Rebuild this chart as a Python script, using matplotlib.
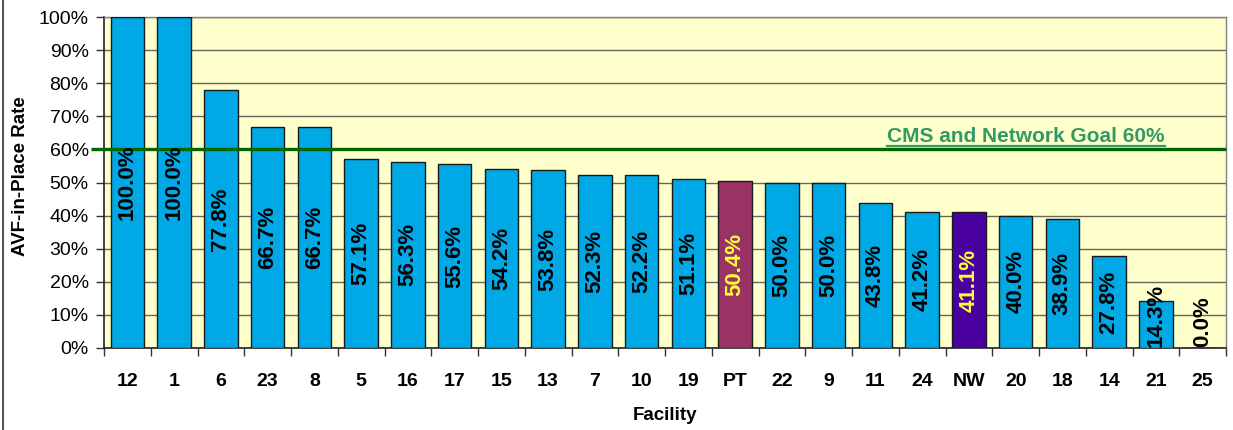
import matplotlib
matplotlib.use("Agg")
import matplotlib.pyplot as plt
from matplotlib.ticker import FixedLocator, PercentFormatter
import matplotlib.transforms as mtransforms

plt.rcParams['font.family'] = ['Liberation Sans', 'DejaVu Sans']

facilities = ["12", "1", "6", "23", "8", "5", "16", "17", "15", "13", "7", "10", "19",
              "PT", "22", "9", "11", "24", "NW", "20", "18", "14", "21", "25"]
rates = [100.0, 100.0, 77.8, 66.7, 66.7, 57.1, 56.3, 55.6, 54.2, 53.8, 52.3, 52.2, 51.1,
         50.4, 50.0, 50.0, 43.8, 41.2, 41.1, 40.0, 38.9, 27.8, 14.3, 0.0]
goal = 60.0
goal_label = "CMS and Network Goal 60%"

bar_color = "#00A8E6"
special_colors = {"PT": "#993366", "NW": "#4B00A0"}
special_text = "#FFFF33"

fig = plt.figure(figsize=(12.33, 4.30), dpi=100)
fig.patch.set_facecolor("white")
ax = fig.add_axes([104/1233, 82/430, (1226-104)/1233, (348-17)/430])
ax.set_facecolor("#FFFFCC")

x = list(range(len(facilities)))
colors = [special_colors.get(f, bar_color) for f in facilities]
bars = ax.bar(x, rates, width=0.72, color=colors, edgecolor="#1a1a1a", linewidth=1.0, zorder=3)

ax.set_xlim(-0.5, len(facilities) - 0.5)
ax.set_ylim(0, 100)
ax.yaxis.set_major_locator(FixedLocator(range(0, 101, 10)))
ax.yaxis.set_major_formatter(PercentFormatter(decimals=0))
ax.grid(axis="y", color="#66665a", linewidth=1.0, zorder=1)
ax.set_axisbelow(True)

ax.set_xticks(x)
ax.set_xticklabels(facilities, fontsize=14, fontweight="bold")
ax.set_xticks([i - 0.5 for i in range(len(facilities) + 1)], minor=True)
ax.tick_params(axis="x", which="major", length=0, pad=18)
ax.tick_params(axis="x", which="minor", length=6, width=1, color="#333333", direction="out")
ax.tick_params(axis="y", which="major", length=6, width=1, color="#333333", labelsize=14, pad=5)

for side in ["top", "right"]:
    ax.spines[side].set_color("#808080")
    ax.spines[side].set_linewidth(1.0)
for side in ["left", "bottom"]:
    ax.spines[side].set_color("#222222")
    ax.spines[side].set_linewidth(1.2)

ax.set_ylabel("AVF-in-Place Rate", fontsize=13.5, fontweight="bold")
ax.yaxis.set_label_coords(-0.067, 0.52)
ax.set_xlabel("Facility", fontsize=13.5, fontweight="bold", labelpad=12)

# goal line extending slightly left into tick area
trans = mtransforms.blended_transform_factory(ax.transAxes, ax.transData)
ax.plot([-0.012, 1.0], [goal, goal], transform=trans, color="#006600", linewidth=2.4,
        clip_on=False, zorder=5, solid_capstyle="butt")

fig.canvas.draw()
renderer = fig.canvas.get_renderer()

# bar labels, centered, clamped inside the plot
px_per_unit = ax.bbox.height / 100.0
for xi, v, f in zip(x, rates, facilities):
    col = special_text if f in special_colors else "black"
    t = ax.text(xi, v / 2, f"{v:.1f}%", rotation=90, ha="center", va="center",
                fontsize=16, fontweight="bold", color=col, zorder=6)
    bb = t.get_window_extent(renderer)
    half = bb.height / 2 / px_per_unit
    if v / 2 < half + 0.3:
        t.set_y(half + 0.3)

# goal label with underline
H = 430
gt = ax.text(887, H - 142, goal_label, fontsize=15, fontweight="bold", color="#339966",
             va="baseline", transform=mtransforms.IdentityTransform(), zorder=6)
fig.canvas.draw()
gb = gt.get_window_extent(renderer)
fig.add_artist(plt.Line2D([gb.x0 / 1233, gb.x1 / 1233], [(H - 145.5) / H, (H - 145.5) / H],
                          color="#339966", linewidth=1.6, transform=fig.transFigure))

# left border of the figure
fig.add_artist(plt.Line2D([2.5 / 1233, 2.5 / 1233], [0, 1], color="#555555", linewidth=1.5,
                          transform=fig.transFigure))

fig.savefig("out.png", dpi=100)
